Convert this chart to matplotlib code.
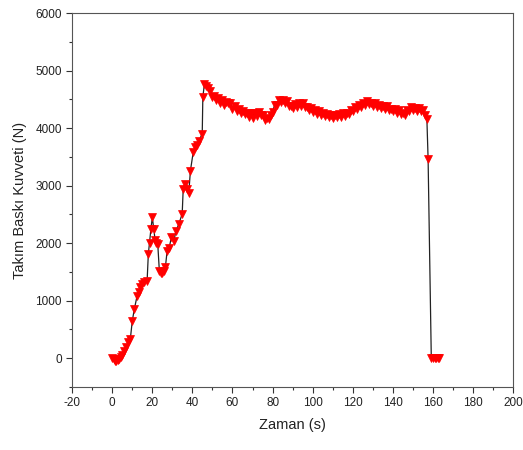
import matplotlib
matplotlib.use('Agg')
import matplotlib.pyplot as plt
from matplotlib.ticker import MultipleLocator

# force ramp-up while the tool plunges in (s, N)
t_ramp = [0, 0.7, 1.4, 2.1, 2.8, 3.5, 4.2, 5, 6, 7, 8, 9, 10, 11, 12.4, 13.2, 14, 15, 16, 17.4,
          18, 18.6, 19.3, 20, 20.7, 21.4, 22, 22.7, 23.5, 24.2, 25, 25.7, 26.5, 27.4, 28.4, 29.5,
          30.7, 31.9, 33.2, 34.9, 35.4, 36.5, 37.4, 38.2, 39, 40.4, 41.5, 42.4, 43.2, 44.9, 45.2]
f_ramp = [0, -20, -40, -40, -30, -10, 20, 60, 120, 200, 280, 330, 650, 850, 1085, 1150, 1230, 1290, 1320, 1350,
          1810, 2010, 2250, 2450, 2250, 2050, 2010, 1985, 1520, 1480, 1490, 1520, 1580, 1870, 1920, 2100,
          2040, 2220, 2330, 2510, 2940, 3030, 2950, 2880, 3260, 3580, 3670, 3700, 3780, 3900, 4540]

# steady cutting phase, 1 s samples
t_cut = list(range(46, 158))
f_cut = [4770, 4740, 4690, 4650, 4540, 4560, 4480, 4520, 4440, 4490,
         4400, 4460, 4430, 4440, 4340, 4380, 4300, 4340, 4260, 4300,
         4240, 4270, 4190, 4260, 4180, 4270, 4210, 4280, 4220, 4230,
         4140, 4170, 4150, 4220, 4280, 4400, 4400, 4480, 4450, 4490,
         4430, 4470, 4380, 4390, 4350, 4420, 4370, 4430, 4390, 4440,
         4370, 4370, 4310, 4350, 4280, 4320, 4250, 4290, 4230, 4270,
         4210, 4250, 4190, 4230, 4170, 4220, 4190, 4240, 4200, 4260,
         4210, 4270, 4250, 4310, 4300, 4360, 4340, 4400, 4370, 4440,
         4410, 4470, 4420, 4440, 4380, 4430, 4370, 4400, 4350, 4390,
         4330, 4380, 4310, 4340, 4290, 4330, 4270, 4320, 4240, 4270,
         4230, 4310, 4300, 4360, 4310, 4350, 4300, 4350, 4290, 4310,
         4220, 4150]

# tool retract
t_out = [157.6, 159.2, 160, 160.8, 161.6, 162.4, 163.2]
f_out = [3470, 0, 0, 0, 0, 0, 0]

zaman = t_ramp + t_cut + t_out
kuvvet = f_ramp + f_cut + f_out

plt.rcParams['font.family'] = ['Liberation Sans', 'DejaVu Sans']
plt.rcParams['axes.unicode_minus'] = False

fig = plt.figure(figsize=(5.23, 4.5), dpi=100)
ax = fig.add_axes([0.138, 0.14, 0.843, 0.831])

ax.plot(zaman, kuvvet, color='#222222', lw=0.9, zorder=1)
ax.plot(zaman, kuvvet, ls='none', marker='v', ms=6.3, color='red',
        markeredgecolor='red', markeredgewidth=0.5, zorder=2)

ax.set_xlim(-20, 200)
ax.set_ylim(-500, 6000)
ax.xaxis.set_major_locator(MultipleLocator(20))
ax.xaxis.set_minor_locator(MultipleLocator(10))
ax.yaxis.set_major_locator(MultipleLocator(1000))
ax.yaxis.set_minor_locator(MultipleLocator(500))
ax.set_yticks(range(0, 6001, 1000))

ax.tick_params(which='both', direction='out', colors='#333333', labelcolor='#222222',
               top=False, right=False, labelsize=8.5)
ax.tick_params(which='major', length=4, width=0.8)
ax.tick_params(which='minor', length=2.5, width=0.8)
for s in ax.spines.values():
    s.set_color('#555555')
    s.set_linewidth(0.8)

ax.set_xlabel('Zaman (s)', fontsize=10.5, color='#222222', labelpad=6)
ax.set_ylabel('Takım Baskı Kuvveti (N)', fontsize=10.5, color='#222222', labelpad=6)

fig.savefig('out.png', dpi=100)
